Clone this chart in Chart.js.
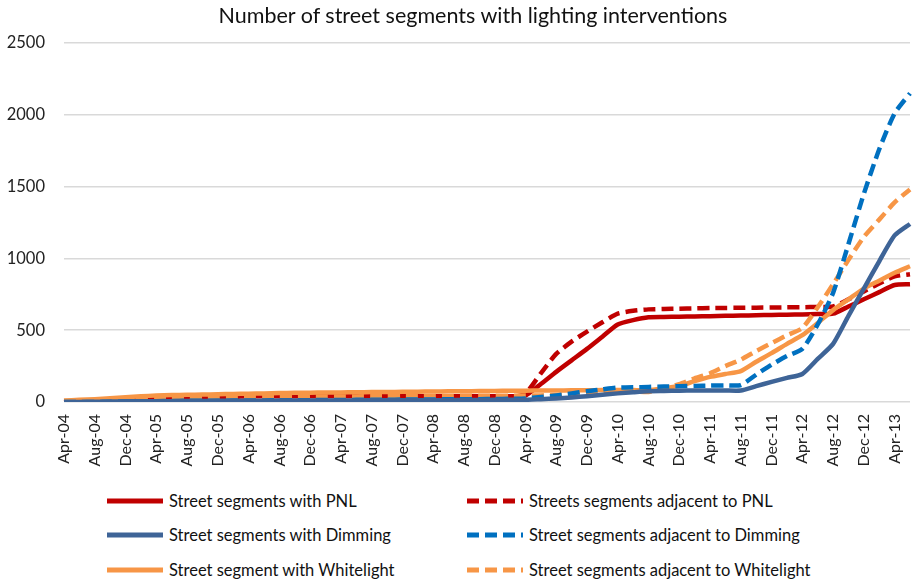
<!DOCTYPE html>
<html>
<head>
<meta charset="utf-8">
<script src="https://cdn.jsdelivr.net/npm/chart.js@4.4.1/dist/chart.umd.min.js"></script>
<style>
  body { margin: 0; background: #fff; font-family: Lato, sans-serif; }
  #wrap { position: relative; width: 914px; height: 583px; }
  #title { position: absolute; top: 2px; left: 16px; width: 914px; text-align: center;
           font-size: 21.5px; color: #111; }
  #chartBox { position: absolute; left: 0; top: 0; width: 914px; height: 480px; }
  .leg { position: absolute; font-size: 16.5px; color: #111; white-space: nowrap;
         display: flex; align-items: center; height: 24px; }
  .leg svg { margin-right: 6px; }
</style>
</head>
<body>
<div id="wrap">
  <div id="chartBox"><canvas id="canvasLight" width="914" height="480"></canvas></div>
  <div id="title">Number of street segments with lighting interventions</div>
  <div id="legend"></div>
</div>
<script>
// every 2 months from Apr-04 to Jun-13, only every 2nd label shown
const months = ['Apr', 'Jun', 'Aug', 'Oct', 'Dec', 'Feb'];
const labels = [];
for (let k = 0; k < 56; k++) {
    const yr = 4 + Math.floor(k / 6) + (k % 6 === 5 ? 1 : 0);
    labels.push(months[k % 6] + '-' + String(yr).padStart(2, '0'));
}

const pnl = [
    0, 5, 10, 15, 20, 25,
    30, 30, 35, 35, 35, 35,
    40, 40, 40, 40, 40, 40,
    40, 40, 40, 40, 40, 40,
    40, 40, 40, 40, 40, 40,
    45, 125, 210, 290, 370, 455,
    540, 570, 590, 592, 594, 596,
    598, 600, 602, 604, 606, 608,
    610, 612, 615, 665, 715, 765,
    815, 820
];
const adjPnl = [
    0, 5, 10, 15, 20, 20,
    25, 25, 25, 30, 30, 30,
    30, 30, 30, 30, 30, 30,
    30, 30, 30, 30, 30, 30,
    30, 30, 30, 30, 30, 30,
    60, 200, 335, 420, 490, 555,
    615, 635, 645, 648, 650, 652,
    654, 655, 656, 657, 658, 659,
    660, 662, 665, 715, 770, 825,
    875, 890
];
const dimming = [
    0, 0, 2, 3, 5, 5,
    6, 6, 7, 7, 8, 8,
    9, 9, 10, 10, 10, 10,
    11, 11, 12, 12, 12, 12,
    13, 13, 14, 14, 15, 15,
    15, 20, 25, 32, 40, 50,
    60, 68, 75, 77, 79, 80,
    80, 80, 80, 110, 140, 168,
    195, 300, 405, 600, 790, 980,
    1160, 1240
];
const adjDimming = [
    0, 0, 0, 2, 4, 5,
    6, 7, 8, 8, 9, 10,
    10, 11, 12, 12, 13, 14,
    14, 15, 16, 16, 17, 18,
    18, 19, 20, 20, 21, 22,
    25, 35, 45, 60, 75, 88,
    100, 102, 105, 108, 110, 112,
    114, 116, 118, 190, 260, 320,
    370, 540, 760, 1100, 1450, 1760,
    2010, 2150
];
const whitelight = [
    10, 15, 20, 27, 33, 40,
    45, 48, 50, 52, 54, 56,
    58, 60, 62, 64, 65, 66,
    67, 68, 69, 70, 71, 72,
    73, 74, 75, 76, 77, 78,
    79, 80, 80, 81, 82, 83,
    84, 83, 82, 96, 112, 145,
    175, 195, 215, 280, 340, 405,
    465, 550, 640, 715, 790, 845,
    900, 945
];
const adjWhitelight = [
    5, 8, 12, 16, 20, 24,
    28, 30, 32, 33, 34, 35,
    36, 36, 37, 37, 38, 38,
    39, 39, 40, 40, 41, 41,
    42, 42, 43, 43, 44, 44,
    45, 46, 47, 50, 55, 65,
    78, 75, 70, 95, 125, 165,
    200, 250, 295, 355, 410, 465,
    515, 660, 820, 990, 1150, 1270,
    1390, 1480
];
const yTicks = [0, 500, 1000, 1500, 2000, 2500];

const series = [
    { label: 'Street segments with PNL', data: pnl, color: '#C00000', dash: [], order: 6, legX: 107, legRow: 0 },
    { label: 'Streets segments adjacent to PNL', data: adjPnl, color: '#C00000', dash: [12, 6], order: 5, legX: 467, legRow: 0 },
    { label: 'Street segments with Dimming', data: dimming, color: '#3E6497', dash: [], order: 1, legX: 107, legRow: 1 },
    { label: 'Street segments adjacent to Dimming', data: adjDimming, color: '#0070C0', dash: [12, 6], order: 2, legX: 467, legRow: 1 },
    { label: 'Street segment with Whitelight', data: whitelight, color: '#F79646', dash: [], order: 3, legX: 107, legRow: 2 },
    { label: 'Street segments adjacent to Whitelight', data: adjWhitelight, color: '#F79646', dash: [12, 6], order: 4, legX: 467, legRow: 2 }
];

const ctx = document.getElementById('canvasLight');
new Chart(ctx, {
    type: 'line',
    data: {
        labels: labels,
        datasets: series.map(s => ({
            label: s.label,
            data: s.data,
            borderColor: s.color,
            backgroundColor: s.color,
            borderWidth: 4.5,
            borderDash: s.dash,
            borderCapStyle: 'butt',
            pointRadius: 0,
            tension: 0.2,
            fill: false,
            order: s.order
        }))
    },
    options: {
        responsive: false,
        animation: false,
        layout: { padding: { top: 43, right: 4, left: 0, bottom: 0 } },
        plugins: {
            legend: { display: false },
            title: { display: false },
            tooltip: { enabled: false }
        },
        scales: {
            x: {
                offset: false,
                grid: { display: false, drawTicks: false },
                border: { display: false },
                afterFit: (scale) => {
                    scale.height = 78;
                    scale.paddingLeft = 0;
                    scale.paddingRight = 0;
                },
                ticks: {
                    autoSkip: false,
                    minRotation: 90,
                    maxRotation: 90,
                    padding: 12,
                    color: '#222',
                    font: { family: 'Lato', size: 16 },
                    callback: function (v, i) { return i % 2 === 0 ? labels[i] : ''; }
                }
            },
            y: {
                min: 0,
                max: 2500,
                afterBuildTicks: (scale) => { scale.ticks = yTicks.map(v => ({ value: v })); },
                afterFit: (scale) => { scale.width = 64; },
                grid: { color: '#d9d9d9', lineWidth: 1.5, drawTicks: false },
                border: { display: false },
                ticks: {
                    padding: 19,
                    color: '#222',
                    font: { family: 'Lato', size: 16.5 },
                    callback: (v) => String(v)
                }
            }
        }
    }
});

// legend drawn as html, two columns
const legend = document.getElementById('legend');
const rowY = [489, 523, 558];
series.forEach(s => {
    const div = document.createElement('div');
    div.className = 'leg';
    div.style.left = s.legX + 'px';
    div.style.top = rowY[s.legRow] + 'px';
    const dash = s.dash.length ? ' stroke-dasharray="12 6"' : '';
    div.innerHTML = '<svg width="56" height="10"><line x1="0" y1="5" x2="56" y2="5" stroke="' + s.color +
        '" stroke-width="5"' + dash + '/></svg>' + s.label;
    legend.appendChild(div);
});
</script>
</body>
</html>
